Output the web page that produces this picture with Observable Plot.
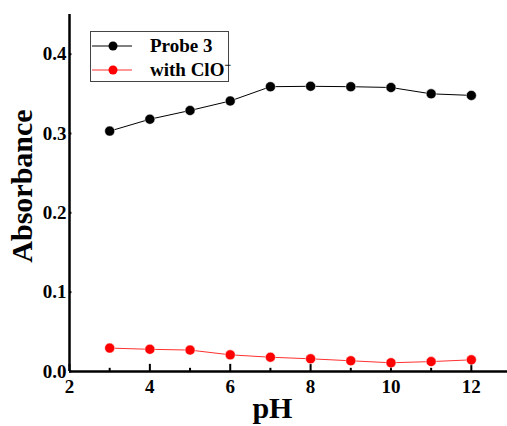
<!DOCTYPE html>
<html>
<head>
<meta charset="utf-8">
<script src="https://cdn.jsdelivr.net/npm/d3@7"></script>
<script src="https://cdn.jsdelivr.net/npm/@observablehq/plot@0.6"></script>
<style>
  body { margin: 0; background: #fff; }
  #wrap { position: relative; width: 507px; height: 426px; }
  #legend {
    position: absolute; left: 90px; top: 31px; width: 139px; height: 51px;
    border: 1px solid #444; background: #fff; box-sizing: border-box;
    font-family: "Liberation Serif", serif; font-weight: bold; font-size: 19px;
  }
  .row { position: absolute; left: 0; height: 22px; display: flex; align-items: center; }
  .row svg { margin-left: 1px; }
  .row span { margin-left: 18px; white-space: nowrap; }
  sup { font-size: 12px; vertical-align: 7px; line-height: 0; }
</style>
</head>
<body>
<div id="wrap"></div>
<script>
const pH = [3, 4, 5, 6, 7, 8, 9, 10, 11, 12];
const probe3 = [0.303, 0.318, 0.329, 0.341, 0.359, 0.3595, 0.359, 0.358, 0.350, 0.348];
const withClO = [0.0295, 0.028, 0.027, 0.021, 0.018, 0.016, 0.0135, 0.011, 0.0125, 0.0147];
const xTicks = [2, 4, 6, 8, 10, 12];
const xMinor = [3, 5, 7, 9, 11];
const yTicks = [0.0, 0.1, 0.2, 0.3, 0.4];
const seriesNames = ["Probe 3", "with ClO⁻"];
const seriesColors = ["#000000", "#ff0000"];
const lineColors = ["#000000", "#ff3030"];

const black = pH.map((x, i) => ({x, y: probe3[i]}));
const red = pH.map((x, i) => ({x, y: withClO[i]}));

const font = "Liberation Serif, Times New Roman, serif";

const chart = Plot.plot({
  width: 507,
  height: 426,
  marginLeft: 69,
  marginRight: 0,
  marginTop: 14,
  marginBottom: 55,
  style: {fontFamily: font, fontWeight: "bold", background: "#fff", overflow: "visible"},
  x: {domain: [2, 12.9]},
  y: {domain: [0, 0.45]},
  marks: [
    Plot.axisX({ticks: xTicks, tickSize: 0, tickPadding: 8, tickFormat: d => String(d),
      fontSize: 19, fontWeight: "bold", fill: "#000", label: null}),
    Plot.axisY({ticks: yTicks, tickSize: 0, tickPadding: 3, tickFormat: d => d.toFixed(1),
      fontSize: 19, fontWeight: "bold", fill: "#000", label: null}),
    Plot.ruleX(xTicks, {x: d => d, y1: 0, y2: 0.009, stroke: "#000", strokeWidth: 2}),
    Plot.ruleX(xMinor, {x: d => d, y1: 0, y2: 0.004, stroke: "#000", strokeWidth: 2}),
    Plot.ruleY(yTicks, {y: d => d, x1: 2, x2: 2.06, stroke: "#000", strokeWidth: 2}),
    Plot.line(black, {x: "x", y: "y", stroke: lineColors[0], strokeWidth: 1}),
    Plot.dot(black, {x: "x", y: "y", r: 5, fill: seriesColors[0], stroke: "#fff", strokeWidth: 0.5}),
    Plot.line(red, {x: "x", y: "y", stroke: lineColors[1], strokeWidth: 1}),
    Plot.dot(red, {x: "x", y: "y", r: 5, fill: seriesColors[1], stroke: "#fff", strokeWidth: 0.5}),
    Plot.ruleY([0], {stroke: "#000", strokeWidth: 2.5}),
    Plot.ruleX([2], {stroke: "#000", strokeWidth: 2.5}),
    Plot.text(["pH"], {x: 7.05, frameAnchor: "bottom", dy: 37, text: d => d, fontSize: 30,
      fontWeight: "bold", fill: "#000", lineAnchor: "middle"}),
    Plot.text(["Absorbance"], {frameAnchor: "left", textAnchor: "middle", dx: -47, dy: -7, rotate: -90,
      text: d => d, fontSize: 30, fontWeight: "bold", fill: "#000", lineAnchor: "middle"})
  ]
});

const wrap = document.getElementById("wrap");
wrap.appendChild(chart);

const legend = document.createElement("div");
legend.id = "legend";
seriesNames.forEach((name, i) => {
  const row = document.createElement("div");
  row.className = "row";
  row.style.top = (3 + i * 24) + "px";
  const label = name === "with ClO⁻" ? "with ClO<sup>−</sup>" : name;
  row.innerHTML = `<svg width="40" height="12"><line x1="0" y1="6" x2="40" y2="6" stroke="${lineColors[i]}" stroke-width="1"/><circle cx="21" cy="6" r="4.5" fill="${seriesColors[i]}"/></svg><span>${label}</span>`;
  legend.appendChild(row);
});
wrap.appendChild(legend);
</script>
</body>
</html>
